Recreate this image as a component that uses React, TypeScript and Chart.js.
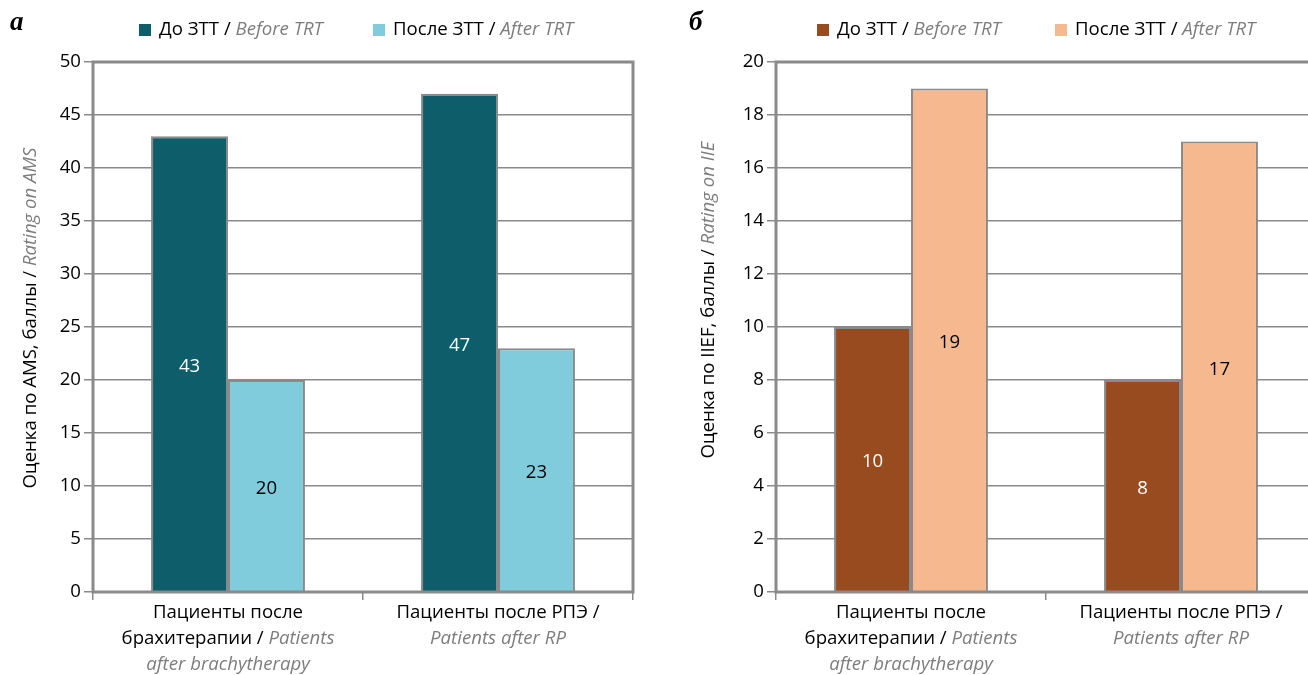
import React, { useEffect, useRef } from "react";
import { Chart, registerables } from "chart.js";
Chart.register(...registerables);

type Seg = { t: string; en?: boolean };

const categories = ["Пациенты после брахитерапии", "Пациенты после РПЭ"];
const seriesRu = ["До ЗТТ", "После ЗТТ"];
const seriesEn = ["Before TRT", "After TRT"];
const amsBefore = [43, 47];
const amsAfter = [20, 23];
const iiefBefore = [10, 8];
const iiefAfter = [19, 17];
const amsMax = 50;
const amsStep = 5;
const iiefMax = 20;
const iiefStep = 2;

const categoryLabelLines: Seg[][][] = [
  [
    [{ t: "Пациенты после" }],
    [{ t: "брахитерапии / " }, { t: "Patients", en: true }],
    [{ t: "after brachytherapy", en: true }],
  ],
  [[{ t: "Пациенты после РПЭ /" }], [{ t: "Patients after RP", en: true }]],
];
const amsTitle: Seg[] = [{ t: "Оценка по AMS, баллы / " }, { t: "Rating on AMS", en: true }];
const iiefTitle: Seg[] = [{ t: "Оценка по IIEF, баллы / " }, { t: "Rating on IIE", en: true }];

const FF = "'Open Sans', sans-serif";
const FS = 18.6;
const GRAY = "#8a8a8a";
const EN_GRAY = "#7d7d7d";

function drawSegs(ctx: CanvasRenderingContext2D, segs: Seg[], x0: number, cy: number, size: number, center: boolean) {
  const fonts = segs.map((s) => (s.en ? `italic ${size}px ${FF}` : `${size}px ${FF}`));
  const widths = segs.map((s, i) => {
    ctx.font = fonts[i];
    return ctx.measureText(s.t).width;
  });
  const total = widths.reduce((a, b) => a + b, 0);
  let x = center ? x0 - total / 2 : x0;
  ctx.textAlign = "left";
  ctx.textBaseline = "middle";
  segs.forEach((s, i) => {
    ctx.font = fonts[i];
    ctx.fillStyle = s.en ? EN_GRAY : "#000";
    ctx.fillText(s.t, x, cy);
    x += widths[i];
  });
}

interface Cfg {
  letter: string;
  letterX: number;
  title: Seg[];
  titleX: number;
  titleY: number;
  legendX: number[];
  colors: string[];
  labelColors: string[];
}

function makePlugin(cfg: Cfg) {
  return {
    id: "overlay",
    afterDatasetsDraw(chart: any) {
      const ctx: CanvasRenderingContext2D = chart.ctx;
      const { left, right, top, bottom } = chart.chartArea;
      ctx.save();
      chart.data.datasets.forEach((ds: any, di: number) => {
        const meta = chart.getDatasetMeta(di);
        meta.data.forEach((el: any, i: number) => {
          ctx.font = `${FS}px ${FF}`;
          ctx.fillStyle = cfg.labelColors[di];
          ctx.textAlign = "center";
          ctx.textBaseline = "middle";
          ctx.fillText(String(ds.data[i]), el.x, (el.y + el.base) / 2 + 3);
        });
      });
      ctx.strokeStyle = GRAY;
      ctx.lineWidth = 3;
      ctx.strokeRect(left, top, right - left, bottom - top);
      ctx.restore();
    },
    afterDraw(chart: any) {
      const ctx: CanvasRenderingContext2D = chart.ctx;
      const xs = chart.scales.x;
      const { bottom } = chart.chartArea;
      ctx.save();
      categoryLabelLines.forEach((lines, i) => {
        const cx = xs.getPixelForValue(i);
        lines.forEach((line, li) => {
          drawSegs(ctx, line, cx, bottom + 21 + li * 26, FS, true);
        });
      });
      ctx.save();
      ctx.translate(cfg.titleX, cfg.titleY);
      ctx.rotate(-Math.PI / 2);
      drawSegs(ctx, cfg.title, 0, 0, FS, true);
      ctx.restore();
      seriesRu.forEach((ru, i) => {
        const lx = cfg.legendX[i];
        ctx.fillStyle = cfg.colors[i];
        ctx.fillRect(lx, 24, 12, 12);
        drawSegs(ctx, [{ t: ru + " / " }, { t: seriesEn[i], en: true }], lx + 20, 30, FS, false);
      });
      ctx.font = `italic bold 27px 'Liberation Serif', serif`;
      ctx.fillStyle = "#000";
      ctx.textAlign = "left";
      ctx.textBaseline = "alphabetic";
      ctx.fillText(cfg.letter, cfg.letterX, 30);
      ctx.restore();
    },
  };
}

function makeChart(
  canvas: HTMLCanvasElement,
  before: number[],
  after: number[],
  max: number,
  step: number,
  axisWidth: number,
  padRight: number,
  cfg: Cfg
) {
  return new Chart(canvas, {
    type: "bar",
    data: {
      labels: categories,
      datasets: [
        {
          label: seriesRu[0],
          data: before,
          backgroundColor: cfg.colors[0],
          borderColor: GRAY,
          borderWidth: 2,
          borderSkipped: "bottom",
          categoryPercentage: 0.57,
          barPercentage: 1,
        },
        {
          label: seriesRu[1],
          data: after,
          backgroundColor: cfg.colors[1],
          borderColor: GRAY,
          borderWidth: 2,
          borderSkipped: "bottom",
          categoryPercentage: 0.57,
          barPercentage: 1,
        },
      ],
    },
    options: {
      responsive: false,
      animation: false,
      devicePixelRatio: 1,
      layout: { padding: { top: 62, right: padRight, left: 0, bottom: 0 } },
      plugins: { legend: { display: false }, tooltip: { enabled: false } },
      scales: {
        x: {
          grid: { display: true, drawOnChartArea: false, drawTicks: true, tickLength: 8, color: GRAY, lineWidth: 1.5, offset: true },
          border: { display: false },
          ticks: { display: false },
          afterFit: (s: any) => {
            s.height = 83;
          },
        },
        y: {
          min: 0,
          max: max,
          ticks: { stepSize: step, color: "#000", font: { family: "'Open Sans', sans-serif", size: FS }, padding: 3 },
          grid: { color: GRAY, lineWidth: 1.5, tickLength: 9 },
          border: { display: false },
          afterFit: (s: any) => {
            s.width = axisWidth;
          },
        },
      },
    },
    plugins: [makePlugin(cfg)],
  } as any);
}

export default function App() {
  const leftRef = useRef<HTMLCanvasElement>(null);
  const rightRef = useRef<HTMLCanvasElement>(null);
  useEffect(() => {
    const c1 = makeChart(leftRef.current!, amsBefore, amsAfter, amsMax, amsStep, 93, 27, {
      letter: "а",
      letterX: 10,
      title: amsTitle,
      titleX: 31,
      titleY: 318,
      legendX: [139, 373],
      colors: ["#0d5d6a", "#80cbdc"],
      labelColors: ["#ffffff", "#000000"],
    });
    const c2 = makeChart(rightRef.current!, iiefBefore, iiefAfter, iiefMax, iiefStep, 116, 24, {
      letter: "б",
      letterX: 29,
      title: iiefTitle,
      titleX: 49,
      titleY: 300,
      legendX: [157, 395],
      colors: ["#994b20", "#f6b98f"],
      labelColors: ["#ffffff", "#000000"],
    });
    return () => {
      c1.destroy();
      c2.destroy();
    };
  }, []);
  return (
    <div style={{ position: "fixed", left: 0, top: 0, width: 1308, height: 675, overflow: "hidden", background: "#fff" }}>
      <canvas ref={leftRef} width={660} height={675} style={{ position: "absolute", left: 0, top: 0 }} />
      <canvas ref={rightRef} width={680} height={675} style={{ position: "absolute", left: 660, top: 0 }} />
    </div>
  );
}
